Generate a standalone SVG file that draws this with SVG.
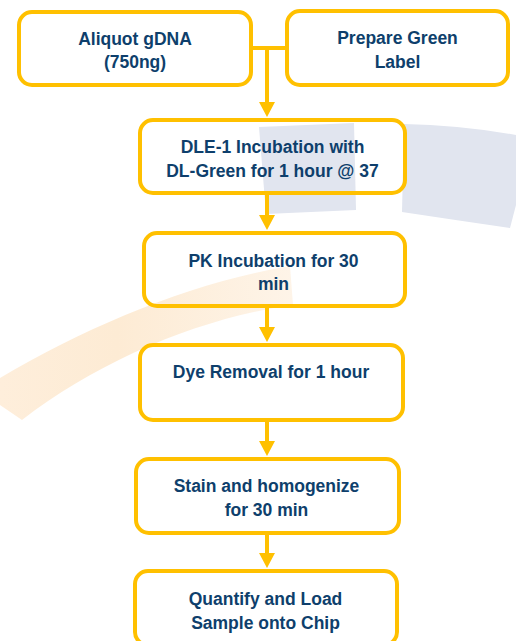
<svg xmlns="http://www.w3.org/2000/svg" width="516" height="641" viewBox="0 0 516 641">
  <style>
    .box { fill: none; stroke: #FFC000; stroke-width: 4; }
    .lbl { font-family: "Liberation Sans", Arial, sans-serif; font-weight: bold; font-size: 17.5px; fill: #0E3F6C; text-anchor: middle; }
    .conn { fill: none; stroke: #FFC000; stroke-width: 4; }
  </style>
  <defs>
    <marker id="arrow" viewBox="0 0 15 16" refX="1" refY="8" markerWidth="15" markerHeight="16" markerUnits="userSpaceOnUse" orient="auto">
      <path d="M0,0 L15,8 L0,16 Z" fill="#FFC000"/>
    </marker>
    <linearGradient id="swoosh" x1="0" y1="0" x2="1" y2="0">
      <stop offset="0" stop-color="#FEEEDB"/>
      <stop offset="0.4" stop-color="#FDEBD4"/>
      <stop offset="1" stop-color="#FEF4E8"/>
    </linearGradient>
  </defs>
  <rect width="516" height="641" fill="#FFFFFF"/>
  <g id="watermark">
    <path d="M0,378 C90,325 190,283 290,266 L293,305 C200,318 100,360 22,420 L0,405 Z" fill="url(#swoosh)"/>
    <path d="M259,127 L354,123 L356,210 L266,214 Z" fill="#E1E5EF"/>
    <path d="M404,124 Q460,125 516,135 L516,205 L510,228 Q455,220 402,212 Z" fill="#E1E5EF"/>
  </g>
  <g id="connectors">
    <path class="conn" d="M253,48 L285,48"/>
    <path class="conn" d="M267,48 L267,103" marker-end="url(#arrow)"/>
    <path class="conn" d="M267,195 L267,216" marker-end="url(#arrow)"/>
    <path class="conn" d="M267,308 L267,328" marker-end="url(#arrow)"/>
    <path class="conn" d="M267,422 L267,442" marker-end="url(#arrow)"/>
    <path class="conn" d="M267,535 L267,554" marker-end="url(#arrow)"/>
  </g>
  <g id="node-aliquot">
    <rect class="box" x="19" y="12" width="232" height="73" rx="13"/>
    <text class="lbl" x="135" y="45">Aliquot gDNA</text>
    <text class="lbl" x="135" y="68">(750ng)</text>
  </g>
  <g id="node-prepare">
    <rect class="box" x="287" y="11" width="221" height="74" rx="13"/>
    <text class="lbl" x="397.5" y="44">Prepare Green</text>
    <text class="lbl" x="397.5" y="68">Label</text>
  </g>
  <g id="node-dle">
    <rect class="box" x="140" y="120" width="265" height="73" rx="13"/>
    <text class="lbl" x="272.5" y="153">DLE-1 Incubation with</text>
    <text class="lbl" x="272.5" y="177">DL-Green for 1 hour @ 37</text>
  </g>
  <g id="node-pk">
    <rect class="box" x="144" y="233" width="261" height="73" rx="13"/>
    <text class="lbl" x="273.5" y="267">PK Incubation for 30</text>
    <text class="lbl" x="273.5" y="290">min</text>
  </g>
  <g id="node-dye">
    <rect class="box" x="140" y="345" width="263" height="75" rx="13"/>
    <text class="lbl" x="271" y="378">Dye Removal for 1 hour</text>
  </g>
  <g id="node-stain">
    <rect class="box" x="136" y="459" width="263" height="74" rx="13"/>
    <text class="lbl" x="266.5" y="492">Stain and homogenize</text>
    <text class="lbl" x="266.5" y="516">for 30 min</text>
  </g>
  <g id="node-quantify">
    <rect class="box" x="135" y="571" width="262" height="74" rx="13"/>
    <text class="lbl" x="265.5" y="605">Quantify and Load</text>
    <text class="lbl" x="265.5" y="629">Sample onto Chip</text>
  </g>
</svg>
